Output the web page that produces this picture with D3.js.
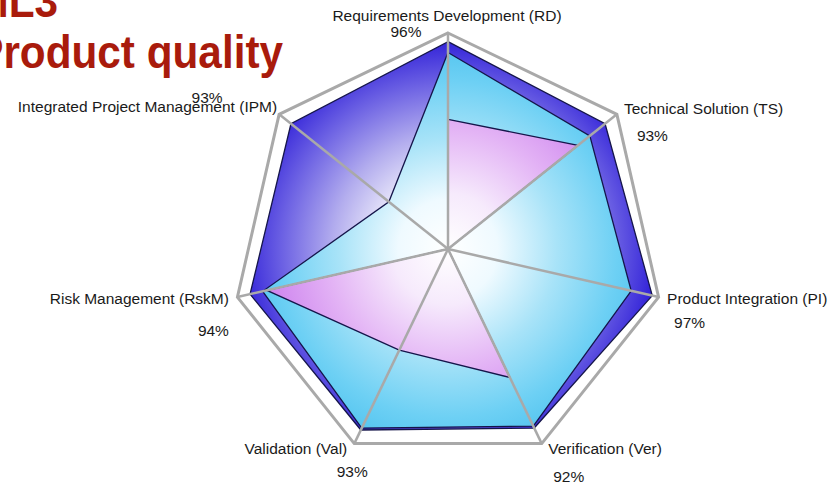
<!DOCTYPE html>
<html>
<head>
<meta charset="utf-8">
<script src="https://cdn.jsdelivr.net/npm/d3@7"></script>
<style>
  html, body { margin: 0; padding: 0; background: #ffffff; }
  svg { display: block; }
  text { font-family: "Liberation Sans", Arial, Helvetica, sans-serif; }
</style>
</head>
<body>
<svg id="chart" width="832" height="488"></svg>
<script>
// Process areas (axes of the radar), clockwise from the top
const categories = [
  "Requirements Development (RD)",
  "Technical Solution (TS)",
  "Product Integration (PI)",
  "Verification (Ver)",
  "Validation (Val)",
  "Risk Management (RskM)",
  "Integrated Project Management (IPM)"
];

// Coverage per process area, in percent
const overallScore  = [96, 93, 97, 92, 93, 94, 93];
const secondScore   = [91, 84, 87, 91, 92, 88, 35];
const thirdScore    = [60, 77, 0, 66, 52, 86, 0];

const titleLines = ["ML3", "Product quality"];

// Label placement relative to each outer vertex
const labelLayout = [
  { anchor: "middle", dx: -1,   dy: -12,  pAnchor: "middle", pdx: -42, pdy: 4 },
  { anchor: "start",  dx: 7,    dy: 0,    pAnchor: "start",  pdx: 20,  pdy: 27 },
  { anchor: "start",  dx: 8.5,  dy: 7,    pAnchor: "start",  pdx: 15.5, pdy: 31 },
  { anchor: "start",  dx: 6.5,  dy: 10.5, pAnchor: "start",  pdx: 11.5, pdy: 38.5 },
  { anchor: "end",    dx: -7,   dy: 10.5, pAnchor: "middle", pdx: -2,  pdy: 33.5 },
  { anchor: "end",    dx: -8.5, dy: 7,    pAnchor: "end",    pdx: -8.5, pdy: 39 },
  { anchor: "end",    dx: -2,   dy: -2,   pAnchor: "middle", pdx: -72, pdy: -11 }
];

const svg = d3.select("#chart");
const cx = 448, cy = 249, R = 216;

const r = d3.scaleLinear().domain([0, 100]).range([0, R]);
const angle = d3.scaleLinear().domain([0, categories.length]).range([0, 2 * Math.PI]);

const point = (i, v) => {
  const a = angle(i);
  return [cx + r(v) * Math.sin(a), cy - r(v) * Math.cos(a)];
};

const lineGen = d3.line().curve(d3.curveLinearClosed);

// Radial gradients for the three series
const defs = svg.append("defs");
const seriesDefs = [
  { id: "gDark",   values: overallScore, stops: [[0, "#ffffff"], [0.3, "#f3f2fc"], [0.55, "#b3adee"], [0.8, "#6a5fe3"], [1, "#3020d8"]] },
  { id: "gLight",  values: secondScore,  stops: [[0, "#ffffff"], [0.25, "#effaff"], [0.55, "#a8e3f8"], [0.85, "#6dd0f4"], [1, "#57c6f0"]] },
  { id: "gPurple", values: thirdScore,   stops: [[0, "#ffffff"], [0.3, "#f6eafc"], [0.65, "#e3b3f5"], [1, "#cd82ee"]] }
];

seriesDefs.forEach(s => {
  const g = defs.append("radialGradient")
    .attr("id", s.id)
    .attr("gradientUnits", "userSpaceOnUse")
    .attr("cx", cx).attr("cy", cy)
    .attr("r", r(d3.max(s.values)));
  g.selectAll("stop").data(s.stops).join("stop")
    .attr("offset", d => d[0])
    .attr("stop-color", d => d[1]);
});

// Series polygons, largest first
seriesDefs.forEach(s => {
  svg.append("path")
    .attr("d", lineGen(s.values.map((v, i) => point(i, v))))
    .attr("fill", `url(#${s.id})`)
    .attr("stroke", "#15154a")
    .attr("stroke-width", 1.3)
    .attr("stroke-linejoin", "miter");
});

// Spokes
svg.append("g").selectAll("line").data(categories).join("line")
  .attr("x1", cx).attr("y1", cy)
  .attr("x2", (d, i) => point(i, 100)[0])
  .attr("y2", (d, i) => point(i, 100)[1])
  .attr("stroke", "#a9a9a9")
  .attr("stroke-width", 2.5);

// Outer frame
svg.append("path")
  .attr("d", lineGen(categories.map((d, i) => point(i, 100))))
  .attr("fill", "none")
  .attr("stroke", "#a9a9a9")
  .attr("stroke-width", 3)
  .attr("stroke-linejoin", "miter");

// Axis labels
const labels = svg.append("g").attr("font-size", 15.5).attr("fill", "#1a1a1a");
labels.selectAll("text.cat").data(categories).join("text")
  .attr("class", "cat")
  .attr("x", (d, i) => point(i, 100)[0] + labelLayout[i].dx)
  .attr("y", (d, i) => point(i, 100)[1] + labelLayout[i].dy)
  .attr("text-anchor", (d, i) => labelLayout[i].anchor)
  .text(d => d);

// Value labels of the overall series
labels.selectAll("text.pct").data(overallScore).join("text")
  .attr("class", "pct")
  .attr("x", (d, i) => point(i, 100)[0] + labelLayout[i].pdx)
  .attr("y", (d, i) => point(i, 100)[1] + labelLayout[i].pdy)
  .attr("text-anchor", (d, i) => labelLayout[i].pAnchor)
  .text(d => `${d}%`);

// Slide title (partly outside the visible area)
const titleEnds = [[58, 17], [283, 68]];
titleLines.forEach((t, i) => {
  svg.append("g")
    .attr("transform", `translate(${titleEnds[i][0]},${titleEnds[i][1]}) scale(0.9,1)`)
    .append("text")
    .attr("text-anchor", "end")
    .attr("font-size", 47)
    .attr("font-weight", "bold")
    .attr("fill", "#a91b0c")
    .text(t);
});
</script>
</body>
</html>
